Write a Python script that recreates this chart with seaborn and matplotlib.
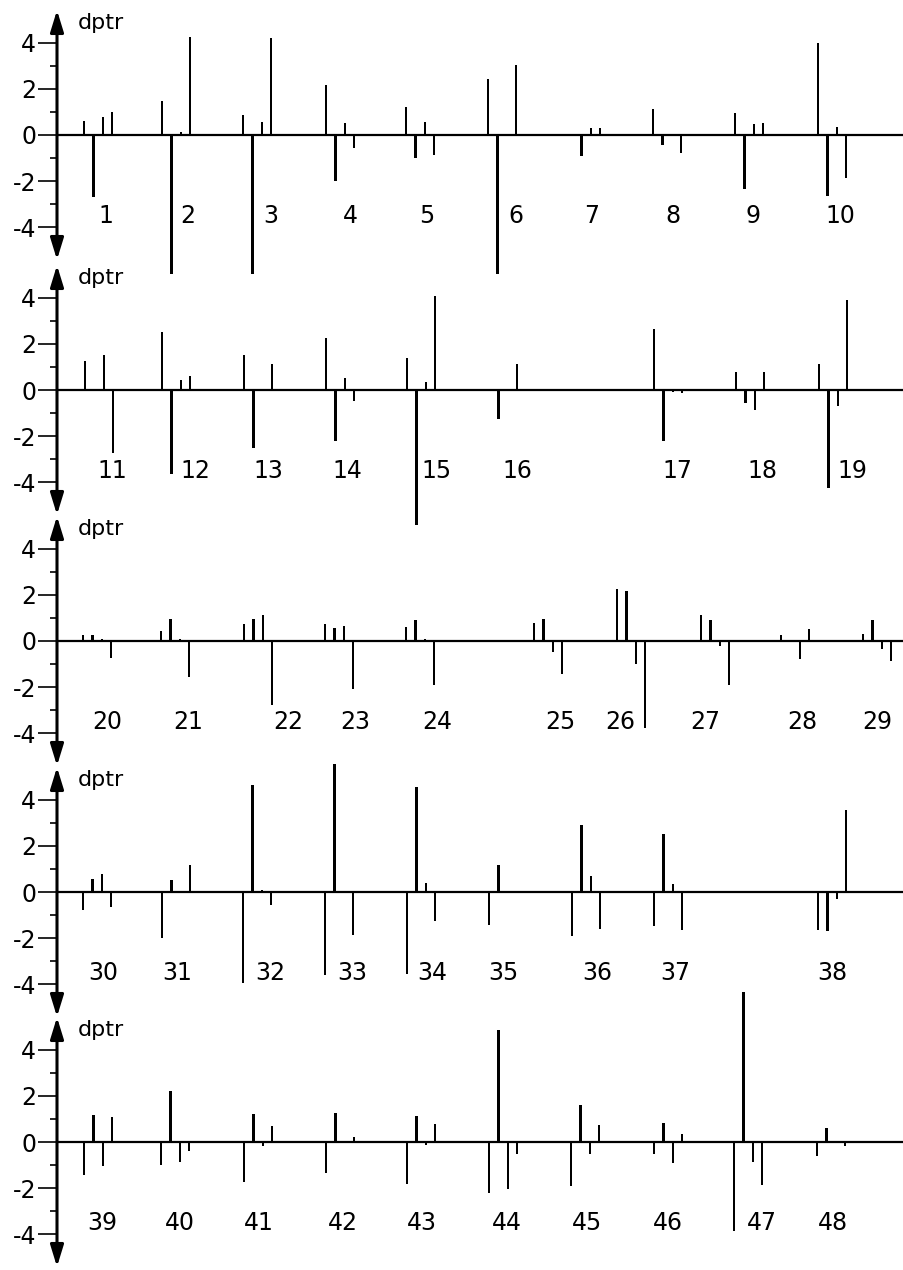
import numpy as np
import pandas as pd
import matplotlib
matplotlib.use("Agg")
import matplotlib.pyplot as plt
import seaborn as sns


# Data: every case has four readings (dptr), drawn as a small group of stems
# case_start = position of the first reading on the horizontal scale
# case_label_x = where the case number sits under the group

panel_cases = [
    list(range(1, 11)),
    list(range(11, 20)),
    list(range(20, 30)),
    list(range(30, 39)),
    list(range(39, 49)),
]

case_start = [
    27, 105, 186, 269, 349, 431, 515, 596, 678, 761,      # 1-10
    28, 105, 187, 269, 350, 432, 597, 679, 762,           # 11-19
    26, 104, 187, 268, 349, 477, 560, 644, 724, 806,      # 20-29
    26, 105, 186, 268, 350, 432, 515, 597, 761,           # 30-38
    27, 104, 187, 269, 350, 432, 514, 597, 677, 760,      # 39-48
]

case_label_x = [
    49, 131, 214, 293, 370, 459, 535, 616, 696, 783,
    55, 138, 211, 290, 380, 460, 620, 705, 795,
    50, 131, 231, 298, 380, 503, 563, 648, 745, 820,
    46, 120, 213, 295, 375, 446, 540, 618, 775,
    45, 123, 202, 286, 365, 450, 530, 611, 705, 776,
]

case_values = [
    # panel 1
    [0.62, -2.68, 0.78, 1.00],
    [1.48, -6.00, 0.15, 4.24],
    [0.87, -6.00, 0.58, 4.20],
    [2.17, -2.00, 0.52, -0.57],
    [1.23, -1.00, 0.55, -0.87],
    [2.42, -6.00, 0.05, 3.03],
    [0.05, -0.93, 0.30, 0.30],
    [1.12, -0.43, 0.05, -0.79],
    [0.97, -2.33, 0.48, 0.53],
    [4.00, -2.65, 0.36, -1.87],
    # panel 2
    [1.26, -0.05, 1.52, -2.74],
    [2.50, -3.64, 0.43, 0.62],
    [1.52, -2.53, 0.05, 1.13],
    [2.24, -2.21, 0.50, -0.46],
    [1.37, -5.84, 0.36, 4.08],
    [0.05, -1.27, 0.06, 1.13],
    [2.64, -2.19, -0.10, -0.12],
    [0.79, -0.58, -0.87, 0.76],
    [1.13, -4.26, -0.69, 3.90],
    # panel 3
    [0.27, 0.25, 0.10, -0.74],
    [0.42, 0.94, 0.07, -1.56],
    [0.72, 0.94, 1.14, -2.78],
    [0.75, 0.58, 0.63, -2.06],
    [0.61, 0.90, 0.07, -1.92],
    [0.78, 0.97, -0.48, -1.41],
    [2.24, 2.15, -0.98, -3.75],
    [1.11, 0.92, -0.22, -1.92],
    [0.27, 0.00, -0.79, 0.53],
    [0.30, 0.89, -0.36, -0.87],
    # panel 4
    [-0.79, 0.55, 0.76, -0.65],
    [-1.99, 0.50, 0.05, 1.18],
    [-3.92, 4.62, 0.07, -0.58],
    [-3.58, 5.54, 0.05, -1.88],
    [-3.54, 4.55, 0.39, -1.27],
    [-1.41, 1.18, 0.04, 0.04],
    [-1.92, 2.89, 0.69, -1.59],
    [-1.47, 2.50, 0.33, -1.66],
    [-1.66, -1.70, -0.32, 3.56],
    # panel 5
    [-1.41, 1.15, -1.02, 1.10],
    [-0.98, 2.19, -0.87, -0.38],
    [-1.75, 1.23, -0.19, 0.68],
    [-1.34, 1.26, 0.00, 0.20],
    [-1.80, 1.11, -0.14, 0.79],
    [-2.21, 4.83, -2.02, -0.53],
    [-1.92, 1.59, -0.50, 0.75],
    [-0.50, 0.84, -0.89, 0.33],
    [-3.87, 6.50, -0.87, -1.88],
    [-0.62, 0.62, -0.05, -0.17],
]

slot_step = 9.4   # spacing of the four readings inside a group

# long table for seaborn
rows = []
for i, vals in enumerate(case_values):
    case = i + 1
    panel = [k for k, cs in enumerate(panel_cases) if case in cs][0]
    for s, v in enumerate(vals):
        rows.append({"panel": panel, "case": case,
                     "pos": round(case_start[i] + s * slot_step, 1), "dptr": v})
df = pd.DataFrame(rows)


sns.set_theme(style="white")
plt.rcParams["font.family"] = ["DejaVu Sans"]
plt.rcParams["axes.unicode_minus"] = False
plt.rcParams["text.color"] = "black"
plt.rcParams["ytick.color"] = "black"
plt.rcParams["ytick.labelcolor"] = "black"

W, H = 904, 1270
fig = plt.figure(figsize=(W / 100, H / 100), dpi=100)

x_axis_px = 57
px_per_unit = 23.1
zero_px = [135, 390, 641, 892, 1142]
ylim = 6.9

for p in range(5):
    h_px = 2 * ylim * px_per_unit
    top_px = zero_px[p] - ylim * px_per_unit
    ax = fig.add_axes([x_axis_px / W, 1 - (top_px + h_px) / H,
                       (W - x_axis_px) / W, h_px / H])
    ax.set_facecolor("none")

    sub = df[df["panel"] == p]
    sns.barplot(data=sub, x="pos", y="dptr", native_scale=True,
                width=0.26, color="black", errorbar=None,
                linewidth=0, ax=ax)

    ax.axhline(0, color="black", lw=1.6, zorder=3)

    # vertical axis with arrows on both ends
    ax.annotate("", xy=(0, 5.4), xycoords=("axes fraction", "data"),
                xytext=(0, -5.4), textcoords=("axes fraction", "data"),
                arrowprops=dict(arrowstyle="<|-|>,head_length=0.65,head_width=0.2",
                                color="black", lw=2.2, shrinkA=0, shrinkB=0,
                                mutation_scale=20),
                annotation_clip=False)

    ax.set_xlim(0, W - x_axis_px)
    ax.set_ylim(-ylim, ylim)
    ax.set_yticks([-4, -2, 0, 2, 4])
    ax.set_yticklabels(["-4", "-2", "0", "2", "4"])
    ax.set_yticks([-3, -1, 1, 3], minor=True)
    ax.tick_params(axis="y", which="major", length=14, width=1.2,
                   direction="out", pad=1, labelsize=17, left=True,
                   color="black", labelcolor="black")
    ax.tick_params(axis="y", which="minor", length=5, width=1.2,
                   direction="out", left=True, color="black")
    ax.set_xticks([])
    ax.set_xlabel("")
    ax.set_ylabel("")
    for sp in ax.spines.values():
        sp.set_visible(False)

    ax.text(21, 4.6, "dptr", fontsize=16, color="black",
            ha="left", va="baseline")

    for c in panel_cases[p]:
        ax.text(case_label_x[c - 1], -3.52, str(c), fontsize=17,
                color="black", ha="center", va="center")

fig.savefig("out.png", dpi=100)
